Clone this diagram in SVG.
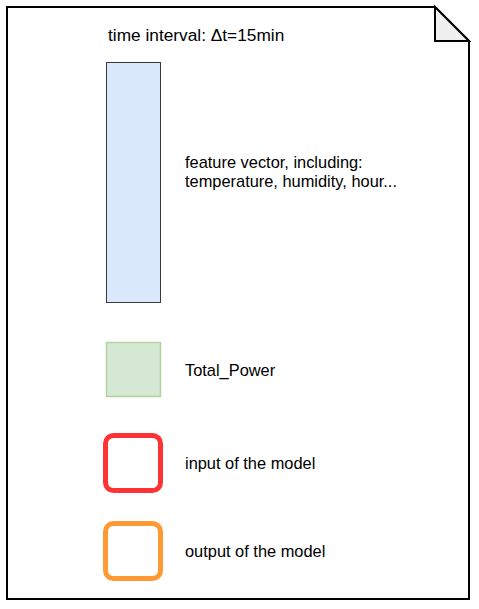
<svg xmlns="http://www.w3.org/2000/svg" width="479" height="609" viewBox="0 0 479 609">
<style>
text{font-family:"Liberation Sans",Arial,sans-serif;font-size:16.4px;fill:#000}
.title{font-size:17.3px}
.doc{fill:#fff;stroke:#000;stroke-width:2}
.fold{fill:#f0f0f0;stroke:#000;stroke-width:2;stroke-linejoin:miter}
.legend{fill:none;stroke-width:5}
</style>
<rect width="479" height="609" fill="#fff"/>
<g id="document">
<path class="doc" d="M7,7 H435 L469,41 V599 H7 Z"/>
<path class="fold" d="M435,7 V41 H469 Z"/>
</g>
<g id="title"><text class="title" x="108" y="41">time interval: Δt=15min</text></g>
<g id="feature-vector">
<rect x="106.5" y="62.5" width="54" height="240" fill="#dae8fc" stroke="#36393d" stroke-width="1"/>
<text x="185" y="168">feature vector, including:</text>
<text x="185" y="187">temperature, humidity, hour...</text>
</g>
<g id="total-power">
<rect x="106.5" y="342.5" width="54" height="54" fill="#d5e8d4" stroke="#b3d3a0" stroke-width="1.5"/>
<text x="185" y="376">Total_Power</text>
</g>
<g id="input-legend">
<rect class="legend" x="105.5" y="435.5" width="55" height="55" rx="8" stroke="#ff3333"/>
<text x="185" y="468.5">input of the model</text>
</g>
<g id="output-legend">
<rect class="legend" x="105.5" y="523.5" width="55" height="55" rx="8" stroke="#ff9933"/>
<text x="185" y="556.5">output of the model</text>
</g>
<g id="connectors"></g>
</svg>
